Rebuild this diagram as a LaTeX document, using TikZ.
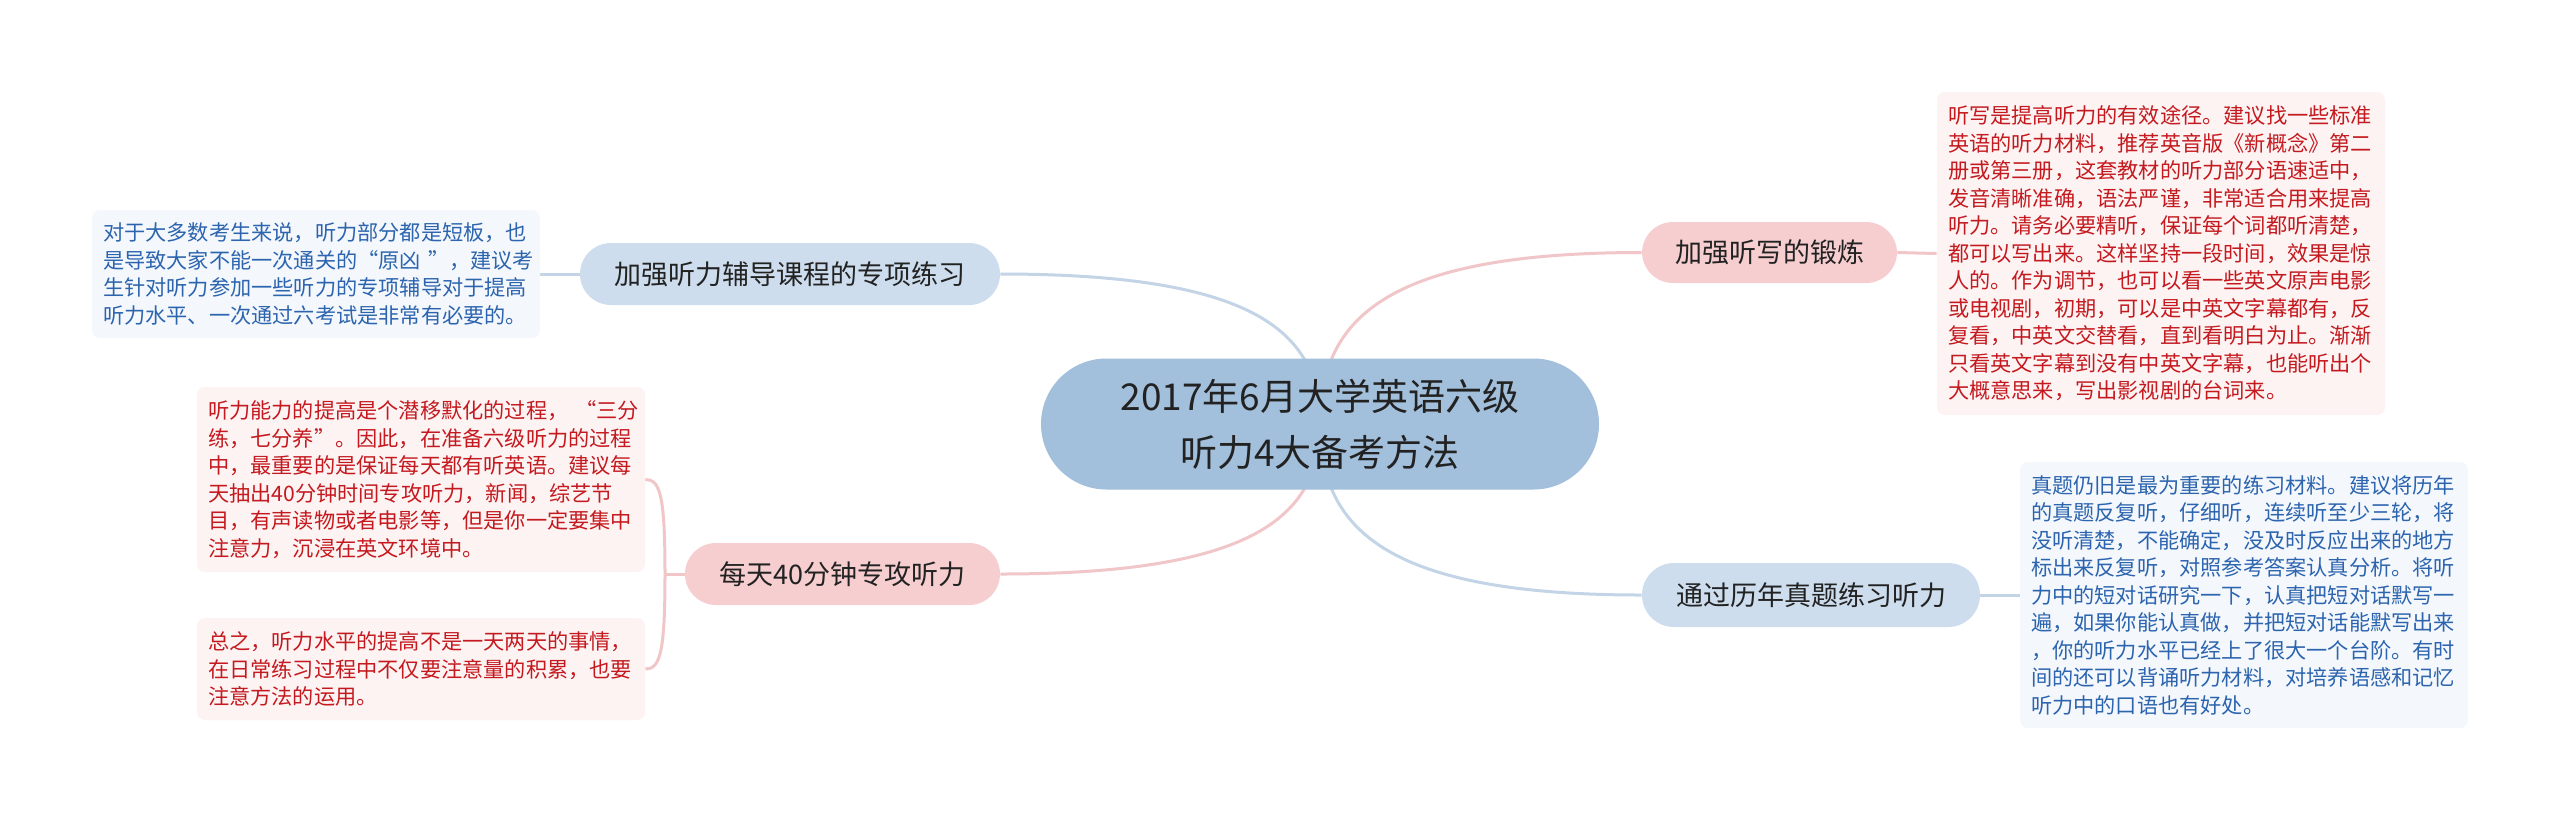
\documentclass[tikz,border=0pt]{standalone}
\usepackage{fontspec}
\setmainfont{Noto Sans CJK SC}
\usetikzlibrary{calc,backgrounds}
\definecolor{cRoot}{HTML}{A2BFDB}
\definecolor{cBrB}{HTML}{CDDDED}
\definecolor{cBrR}{HTML}{F6CED0}
\definecolor{cLeafB}{HTML}{F4F8FD}
\definecolor{cLeafR}{HTML}{FDF3F3}
\definecolor{cTxtB}{HTML}{2C64AE}
\definecolor{cTxtR}{HTML}{C41A1F}
\definecolor{cTxt}{HTML}{222222}
\definecolor{cLnB}{HTML}{C3D4E7}
\definecolor{cLnR}{HTML}{F0C6C8}
\begin{document}
\begin{tikzpicture}[x=0.5pt,y=-0.5pt,
  rootbox/.style={fill=cRoot, rounded corners=32.75pt, minimum width=279pt, minimum height=65.5pt, inner sep=0pt, align=center, text=cTxt, font=\fontsize{18.5}{28}\selectfont},
  brb/.style={fill=cBrB, rounded corners=15.5pt, minimum height=31pt, inner sep=0pt, text=cTxt, font=\fontsize{13.5}{16}\selectfont},
  brr/.style={brb, fill=cBrR},
  leafb/.style={fill=cLeafB, text=cTxtB, rounded corners=4pt, text width=213pt, inner xsep=5.5pt, inner ysep=0pt, align=left, font=\fontsize{10.6}{13.75}\selectfont},
  leafr/.style={leafb, fill=cLeafR, text=cTxtR},
  lnb/.style={draw=cLnB, line width=1.5pt},
  lnr/.style={draw=cLnR, line width=1.5pt}]
\useasboundingbox (0,0) rectangle (2560,821);

\node[rootbox] (root) at (1320,424) {2017年6月大学英语六级\\听力4大备考方法};

\node[brb, minimum width=210pt] (n1) at (790,274) {加强听力辅导课程的专项练习};
\node[brr, minimum width=157.5pt] (n2) at (842.5,574) {每天40分钟专攻听力};
\node[brr, minimum width=127.5pt, minimum height=30.5pt] (n3) at (1769.5,252.5) {加强听写的锻炼};
\node[brb, minimum width=169pt, minimum height=32pt, rounded corners=16pt] (n4) at (1811,595) {通过历年真题练习听力};

\node[leafb, minimum height=64pt] (l1) at (316,274) {对于大多数考生来说，听力部分都是短板，也\\是导致大家不能一次通关的“原凶~”，建议考\\生针对听力参加一些听力的专项辅导对于提高\\听力水平、一次通过六考试是非常有必要的。};

\node[leafr, minimum height=92.5pt] (l2) at (421,479.5) {听力能力的提高是个潜移默化的过程，~“三分\\练，七分养”。因此，在准备六级听力的过程\\中，最重要的是保证每天都有听英语。建议每\\天抽出40分钟时间专攻听力，新闻，综艺节\\目，有声读物或者电影等，但是你一定要集中\\注意力，沉浸在英文环境中。};

\node[leafr, minimum height=51pt] (l3) at (421,669) {总之，听力水平的提高不是一天两天的事情，\\在日常练习过程中不仅要注意量的积累，也要\\注意方法的运用。};

\node[leafr, minimum height=161.5pt] (l4) at (2161,253.5) {听写是提高听力的有效途径。建议找一些标准\\英语的听力材料，推荐英音版《新概念》第二\\册或第三册，这套教材的听力部分语速适中，\\发音清晰准确，语法严谨，非常适合用来提高\\听力。请务必要精听，保证每个词都听清楚，\\都可以写出来。这样坚持一段时间，效果是惊\\人的。作为调节，也可以看一些英文原声电影\\或电视剧，初期，可以是中英文字幕都有，反\\复看，中英文交替看，直到看明白为止。渐渐\\只看英文字幕到没有中英文字幕，也能听出个\\大概意思来，写出影视剧的台词来。};

\node[leafb, minimum height=133pt] (l5) at (2244,595) {真题仍旧是最为重要的练习材料。建议将历年\\的真题反复听，仔细听，连续听至少三轮，将\\没听清楚，不能确定，没及时反应出来的地方\\标出来反复听，对照参考答案认真分析。将听\\力中的短对话研究一下，认真把短对话默写一\\遍，如果你能认真做，并把短对话能默写出来\\，你的听力水平已经上了很大一个台阶。有时\\间的还可以背诵听力材料，对培养语感和记忆\\听力中的口语也有好处。};

\coordinate (br) at (665,574);

\begin{pgfonlayer}{background}
\fill[white] (0,0) rectangle (2560,821);
\draw[lnb] (root.center) .. controls ($(root.center)!0.62!(root.center |- n1.east)$) and ($(n1.east)!0.79!(root.center |- n1.east)$) .. (n1.east);
\draw[lnr] (root.center) .. controls ($(root.center)!0.62!(root.center |- n3.west)$) and ($(n3.west)!0.79!(root.center |- n3.west)$) .. (n3.west);
\draw[lnr] (root.center) .. controls ($(root.center)!0.62!(root.center |- n2.east)$) and ($(n2.east)!0.79!(root.center |- n2.east)$) .. (n2.east);
\draw[lnb] (root.center) .. controls ($(root.center)!0.62!(root.center |- n4.west)$) and ($(n4.west)!0.79!(root.center |- n4.west)$) .. (n4.west);
\draw[lnb] (n1.west) -- (l1.east);
\draw[lnr] (n3.east) -- (l4.west);
\draw[lnb] (n4.east) -- (l5.west);
\draw[lnr] (n2.west) -- (br);
\draw[lnr] (br) .. controls (665,495) and (660,479.5) .. (l2.east);
\draw[lnr] (br) .. controls (665,653) and (660,669) .. (l3.east);
\end{pgfonlayer}
\end{tikzpicture}
\end{document}
